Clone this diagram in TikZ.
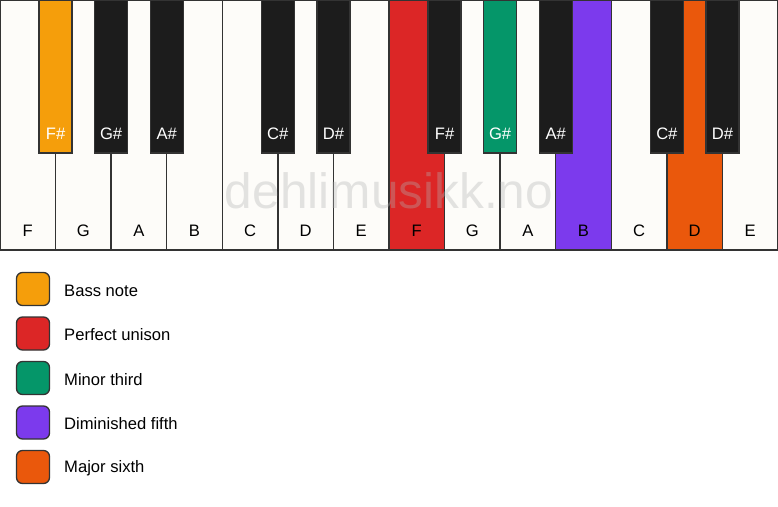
\documentclass[tikz,border=0pt]{standalone}
\usepackage{fontspec}
\setmainfont{Liberation Sans}
\usepackage{xcolor}
\usepackage{tikz}
\usetikzlibrary{calc}
\definecolor{keyline}{HTML}{333333}
\definecolor{ivory}{HTML}{FDFCF9}
\definecolor{ebony}{HTML}{1C1C1C}
\definecolor{bassnote}{HTML}{F59E0B}
\definecolor{unison}{HTML}{DC2626}
\definecolor{minthird}{HTML}{059669}
\definecolor{dimfifth}{HTML}{7C3AED}
\definecolor{majsixth}{HTML}{EA580C}
\newcommand{\keyW}{55.571}
\newcommand{\drawWhite}[3]{% index, label, fill
  \draw[fill=#3,draw=keyline,line width=1.3pt] ({#1*\keyW},0) rectangle ({(#1+1)*\keyW},250);
  \node[keytext] (w#1) at ({(#1+.5)*\keyW},231) {#2};
}
\newcommand{\drawBlack}[3]{% boundary index, label, fill
  \draw[fill=#3,draw=keyline,line width=1.3pt] ({#1*\keyW-16.5},0) rectangle ({#1*\keyW+16.5},153);
  \node[keytext,text=white] (b#1) at ({#1*\keyW},134) {#2};
}
\newcommand{\drawLegend}[3]{% row, label, fill
  \node[legendbox,fill=#3] (l#1) at (33,{289+#1*44.5}) {};
  \node[keytext,anchor=west] (t#1) at (64,{290.5+#1*44.5}) {#2};
}

\begin{document}
\begin{tikzpicture}[x=1pt,y=-1pt,
  keytext/.style={font=\fontsize{16.6}{19}\selectfont,inner sep=0pt},
  legendbox/.style={draw=keyline,line width=1.3pt,rounded corners=6pt,minimum size=33pt,inner sep=0pt}]
\useasboundingbox[fill=white] (0,0) rectangle (778,506);

% White keys
\drawWhite{0}{F}{ivory}
\drawWhite{1}{G}{ivory}
\drawWhite{2}{A}{ivory}
\drawWhite{3}{B}{ivory}
\drawWhite{4}{C}{ivory}
\drawWhite{5}{D}{ivory}
\drawWhite{6}{E}{ivory}
\drawWhite{7}{F}{unison}
\drawWhite{8}{G}{ivory}
\drawWhite{9}{A}{ivory}
\drawWhite{10}{B}{dimfifth}
\drawWhite{11}{C}{ivory}
\drawWhite{12}{D}{majsixth}
\drawWhite{13}{E}{ivory}

% Watermark
\node[font=\fontsize{49.6}{56}\selectfont,text=gray!60,opacity=.35,anchor=base,inner sep=0pt] (mark) at (389,208) {dehlimusikk.no};

% Black keys
\drawBlack{1}{F\#}{bassnote}
\drawBlack{2}{G\#}{ebony}
\drawBlack{3}{A\#}{ebony}
\drawBlack{5}{C\#}{ebony}
\drawBlack{6}{D\#}{ebony}
\drawBlack{8}{F\#}{ebony}
\drawBlack{9}{G\#}{minthird}
\drawBlack{10}{A\#}{ebony}
\drawBlack{12}{C\#}{ebony}
\drawBlack{13}{D\#}{ebony}

% Legend
\drawLegend{0}{Bass note}{bassnote}
\drawLegend{1}{Perfect unison}{unison}
\drawLegend{2}{Minor third}{minthird}
\drawLegend{3}{Diminished fifth}{dimfifth}
\drawLegend{4}{Major sixth}{majsixth}
\end{tikzpicture}
\end{document}
